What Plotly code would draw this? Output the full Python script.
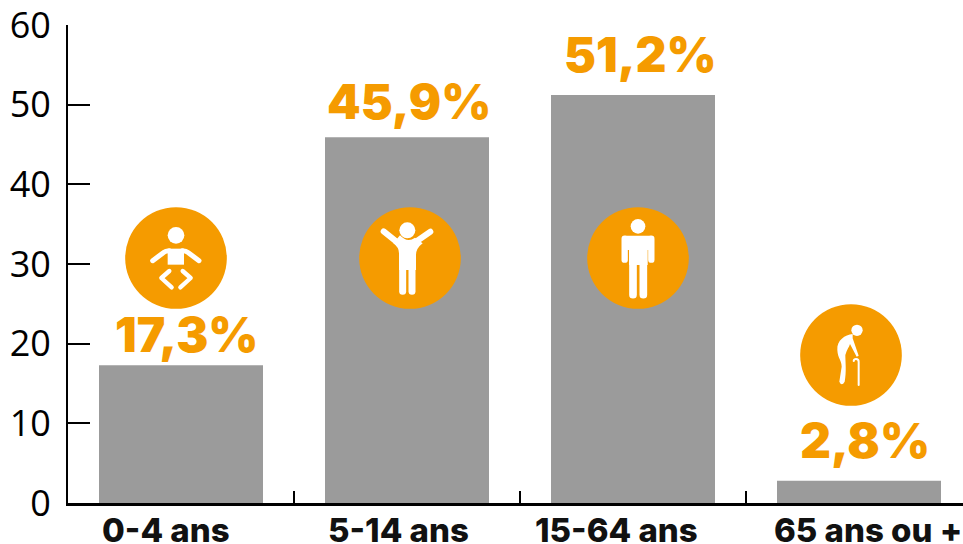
import base64
import plotly.graph_objects as go

categories = ["0-4 ans", "5-14 ans", "15-64 ans", "65 ans ou +"]
values = [17.3, 45.9, 51.2, 2.8]
labels = ["17,3%", "45,9%", "51,2%", "2,8%"]
y_ticks = [0, 10, 20, 30, 40, 50, 60]

W, H = 963, 544
L, T, B = 68, 25, 41
ORANGE = "#F59B00"
GREY = "#9B9B9B"

label_gap = [10, 15, 20, 20]
label_xshift = [5, 2, 7, 6]
category_xshift = [-15, -9, -17, 9]


def svg(cx, cy, body):
    s = (f'<svg xmlns="http://www.w3.org/2000/svg" width="306" height="306" '
         f'viewBox="{cx-153} {cy-153} 306 306">'
         f'<circle cx="{cx}" cy="{cy}" r="152.5" fill="{ORANGE}"/>'
         f'<g fill="#fff" stroke="none">{body}</g></svg>')
    return "data:image/svg+xml;base64," + base64.b64encode(s.encode()).decode()


def st(d, w):
    return f'<path d="{d}" fill="none" stroke="#fff" stroke-width="{w}" stroke-linecap="round" stroke-linejoin="round"/>'


baby = ('<circle cx="228" cy="136" r="25"/>'
        '<path d="M203 176 H252 V224 H203Z"/>'
        + st("M158 212 L190 188 Q197 182 208 182", 15)
        + st("M297 212 L265 188 Q258 182 247 182", 15)
        + st("M208 243 L184 264 L215 292", 13)
        + st("M248 243 L272 264 L241 292", 13))
child = ('<circle cx="922" cy="121" r="24"/>'
         '<path d="M897 240 V190 Q897 172 880 160 L900 136 Q922 160 945 143 L968 160 Q948 175 948 195 V240Z"/>'
         + st("M851 124 L893 158", 18) + st("M991 125 L952 152", 18)
         + st("M908 235 V304", 21) + st("M936 235 V304", 21))
adult = ('<circle cx="203" cy="109" r="22"/>'
         '<path d="M165 137 H241 V180 H232 V225 H176 V180 H165Z"/>'
         + st("M163 146 V209", 19) + st("M243 146 V209", 19)
         + st("M188 215 V314", 23) + st("M219 215 V314", 23))
old = ('<circle cx="861" cy="421" r="17"/>'
       '<path d="M848 432 C825 435 800 450 802 480 C803 505 815 510 815 530 L808 575 '
       'Q815 590 824 575 C830 545 826 515 826 495 C830 480 838 470 840 462 L860 500 L866 497 L848 445Z"/>'
       + st("M866 585 V515 Q866 507 858 507 Q852 507 851 513", 6))

icons = [
    (176, 258, svg(228, 204, baby)),
    (410, 258, svg(930, 204, child)),
    (638, 258, svg(203, 204, adult)),
    (851, 355, svg(843, 495, old)),
]

fig = go.Figure(go.Bar(x=categories, y=values, width=164 / 226,
                       marker=dict(color=GREY, line=dict(width=0)),
                       hoverinfo="skip"))

plot_w, plot_h = W - L, H - T - B
for cx, cy, src in icons:
    fig.add_layout_image(source=src, xref="paper", yref="paper",
                         x=(cx - 51 - L) / plot_w, y=1 - (cy - 51 - T) / plot_h,
                         sizex=102 / plot_w, sizey=102 / plot_h,
                         xanchor="left", yanchor="top", sizing="stretch", layer="above")

for c, v, t, g, dx in zip(categories, values, labels, label_gap, label_xshift):
    fig.add_annotation(x=c, y=v, text=t, showarrow=False, xanchor="center",
                       yanchor="bottom", yshift=g - 11, xshift=dx,
                       font=dict(family="Inter, Lato, sans-serif", size=48, color=ORANGE, weight=900))

for c, dx in zip(categories, category_xshift):
    fig.add_annotation(x=c, y=0, yref="paper", text=c, showarrow=False, xanchor="center",
                       yanchor="middle", yshift=-27, xshift=dx,
                       font=dict(family="Inter, sans-serif", size=33, color="#111", weight=800))

fig.update_layout(
    width=W, height=H, margin=dict(l=L, r=0, t=T, b=B, pad=0),
    plot_bgcolor="white", paper_bgcolor="white", showlegend=False,
    font=dict(family="Open Sans", color="black"),
    xaxis=dict(type="category", categoryorder="array", categoryarray=categories,
               range=[-0.5, (963 - 181) / 226], tickson="boundaries", ticks="inside",
               ticklen=12, tickwidth=2, tickcolor="black", showgrid=False,
               showline=True, linecolor="black", linewidth=3, zeroline=False,
               automargin=False, showticklabels=False, fixedrange=True),
    yaxis=dict(range=[0, 60], tickvals=y_ticks, ticks="inside", ticklen=22, tickwidth=2,
               tickcolor="black", showgrid=False, showline=True, linecolor="black",
               linewidth=2, zeroline=False, automargin=False,
               tickfont=dict(family="Open Sans", size=36),
               ticklabeloverflow="allow", ticklabelstandoff=8, fixedrange=True),
)
fig.write_html("out.html", config=dict(displayModeBar=False),
               default_width=f"{W}px", default_height=f"{H}px",
               post_script="document.body.style.margin='0';document.documentElement.style.overflow='hidden';")
